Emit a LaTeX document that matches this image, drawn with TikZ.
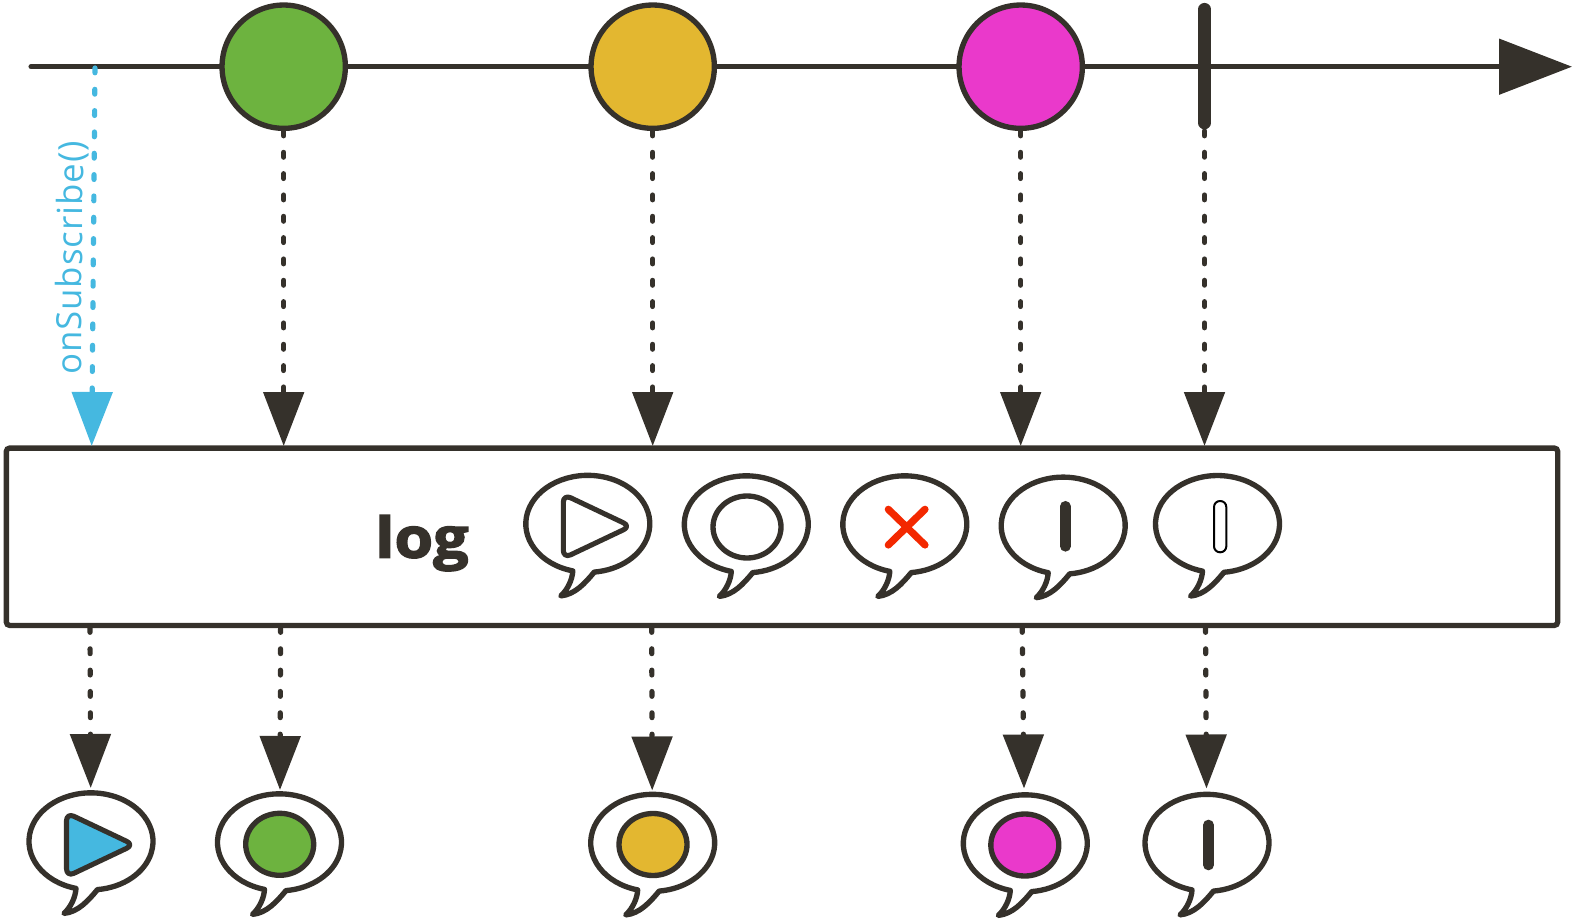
\documentclass[tikz,border=0pt]{standalone}
\usepackage{fontspec}
\usetikzlibrary{arrows.meta,shapes.geometric}
\newfontfamily\logfont[BoldFeatures={FakeBold=2.6,FakeStretch=1.12}]{Open Sans}
\newfontfamily\subfont[LetterSpace=3]{Open Sans}
\definecolor{inkdark}{HTML}{35312B}
\definecolor{subblue}{HTML}{45B8E0}
\definecolor{ballgreen}{HTML}{6DB33F}
\definecolor{ballyellow}{HTML}{E3B730}
\definecolor{ballpink}{HTML}{EA39CB}
\definecolor{crossred}{HTML}{F32800}
\tikzset{
	ball/.style={circle, draw=inkdark, line width=4pt, minimum size=92.5pt, inner sep=0pt},
	dotarrow/.style={draw=inkdark, line width=3.9pt, line cap=round, dash pattern=on 3.6pt off 12.4pt, -{Triangle[length=40.5pt, width=30pt]}},
	bubble/.pic={
		\draw[draw=inkdark, fill=white, line width=4pt, line join=round]
			(-15, 49.4) arc (104:444:62 and 48.5)
			.. controls (-3, 62) and (-13, 73) .. (-27, 74.4)
			.. controls (-20, 68) and (-15.5, 58) .. cycle;
	},
	playmark/.pic={
		\draw[draw=inkdark, fill=#1, line width=3.8pt, line join=round, rounded corners=6pt]
			(-24.5, -28) -- (-24.5, 36) -- (43, 4) -- cycle;
	},
	innerball/.style={ellipse, draw=inkdark, line width=4pt}
}
\begin{document}
\begin{tikzpicture}[x=0.75pt, y=-0.75pt]
	%%%%% START %%%%%
	\useasboundingbox (0, 0) rectangle (1583, 923);

	% source line
	\coordinate (lineStart) at (31, 66.7);
	\coordinate (lineEnd) at (1572, 66.7);
	\draw[draw=inkdark, line width=3.8pt, line cap=round, -{Triangle[length=54.75pt, width=41.25pt]}] (lineStart) -- (lineEnd);

	\node[ball, fill=ballgreen] (green) at (283.7, 66.7) {};
	\node[ball, fill=ballyellow] (yellow) at (652.7, 66.7) {};
	\node[ball, fill=ballpink] (pink) at (1020.7, 66.7) {};

	\coordinate (barTop) at (1204.5, 9.2);
	\coordinate (barEnd) at (1204.5, 123);
	\draw[draw=inkdark, line width=9.4pt, line cap=round] (barTop) -- (barEnd);

	% operator box
	\node[draw=inkdark, fill=white, line width=4pt, minimum width=1163.5pt, minimum height=133pt, inner sep=0pt, rounded corners=2.5pt] (logbox) at (782, 536.75) {};
	\node[anchor=base west, inner sep=0pt, text=inkdark] (logname) at (375, 557.7) {\logfont\bfseries\fontsize{42}{42}\selectfont log};

	% arrows into the box
	\coordinate (subStart) at (95, 68);
	\coordinate (subEnd) at (91.7, 446);
	\coordinate (greenIn) at (283.7, 446);
	\coordinate (yellowIn) at (652.7, 446);
	\coordinate (pinkIn) at (1020.7, 446);
	\coordinate (barStart) at (1204.5, 131);
	\coordinate (barIn) at (1204.5, 446);
	\draw[dotarrow, draw=subblue] (subStart) -- (subEnd);
	\draw[dotarrow] (green.south) -- (greenIn);
	\draw[dotarrow] (yellow.south) -- (yellowIn);
	\draw[dotarrow] (pink.south) -- (pinkIn);
	\draw[dotarrow] (barStart) -- (barIn);
	\node[anchor=base west, inner sep=0pt, rotate=89.4, text=subblue] (subname) at (81, 375) {\subfont\fontsize{26}{26}\selectfont onSubscribe()};

	% bubbles in the box
	\pic (logPlay) at (587.8, 521.5) {bubble};
	\pic at (587.8, 522.3) {playmark=white};

	\pic (logNext) at (746.3, 522) {bubble};
	\node[innerball, minimum width=51pt, minimum height=46.5pt] (logDot) at (747, 527) {};

	\pic (logError) at (904.8, 522) {bubble};
	\draw[draw=crossred, line width=5.4pt, line cap=round] (888.3, 509.3) -- (925, 545);
	\draw[draw=crossred, line width=5.4pt, line cap=round] (925, 509.3) -- (888.3, 545);

	\pic (logDone) at (1063.2, 523.3) {bubble};
	\draw[draw=inkdark, line width=8pt, line cap=round] (1065.3, 506.3) -- (1065.3, 546.3);

	\pic (logAfter) at (1217.5, 521.7) {bubble};
	\draw[draw=black, line width=1.5pt, rounded corners=4.5pt] (1214, 501) rectangle (1226.3, 552.3);

	% arrows out of the box
	\coordinate (outA) at (90, 627.5);
	\coordinate (outB) at (280.6, 627.5);
	\coordinate (outC) at (651.7, 627.5);
	\coordinate (outD) at (1022.2, 627.5);
	\coordinate (outE) at (1205.5, 627.5);
	\coordinate (tipA) at (90.7, 788);
	\coordinate (tipB) at (280, 790);
	\coordinate (tipC) at (652.2, 790.5);
	\coordinate (tipD) at (1024, 788.5);
	\coordinate (tipE) at (1206.5, 788.5);
	\draw[dotarrow] (outA) -- (tipA);
	\draw[dotarrow] (outB) -- (tipB);
	\draw[dotarrow] (outC) -- (tipC);
	\draw[dotarrow] (outD) -- (tipD);
	\draw[dotarrow] (outE) -- (tipE);

	% bubbles below
	\pic (endPlay) at (91, 839) {bubble};
	\pic at (91, 840.8) {playmark=subblue};

	\pic (endGreen) at (279.5, 840) {bubble};
	\node[innerball, fill=ballgreen, minimum width=51pt, minimum height=46.5pt] (dotGreen) at (279.7, 844.3) {};

	\pic (endYellow) at (652.7, 840.5) {bubble};
	\node[innerball, fill=ballyellow, minimum width=51pt, minimum height=46.5pt] (dotYellow) at (653, 844.5) {};

	\pic (endPink) at (1025.3, 841) {bubble};
	\node[innerball, fill=ballpink, minimum width=51pt, minimum height=46.5pt] (dotPink) at (1024.8, 845) {};

	\pic (endDone) at (1207, 840.5) {bubble};
	\draw[draw=inkdark, line width=8pt, line cap=round] (1208.5, 825) -- (1208.5, 865);
	%%%%% END %%%%%
\end{tikzpicture}
\end{document}
